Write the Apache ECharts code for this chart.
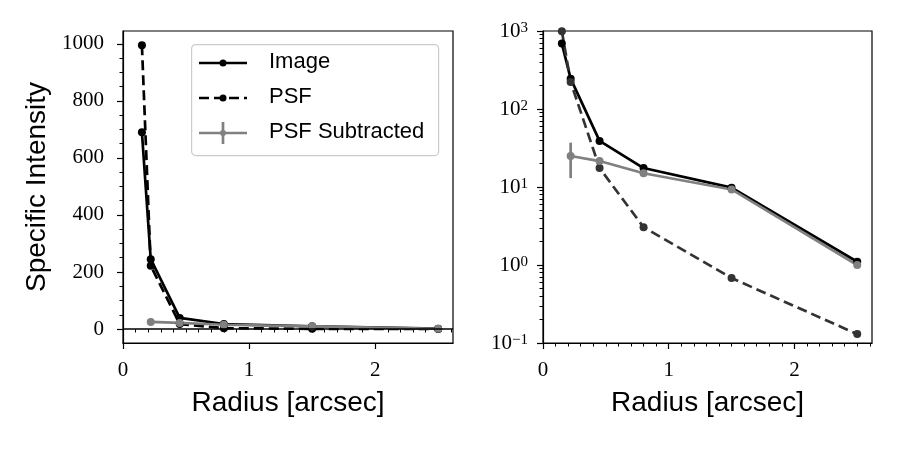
<!DOCTYPE html>
<html>
<head>
<meta charset="utf-8">
<script src="https://cdn.jsdelivr.net/npm/echarts@6/dist/echarts.min.js"></script>
<style>
  html, body { margin: 0; padding: 0; background: #fff; }
  #chart { width: 900px; height: 450px; }
</style>
</head>
<body>
<div id="chart"></div>
<script>
// data
const radius = [0.15, 0.22, 0.45, 0.8, 1.5, 2.5];
const imageI = [690, 245, 39, 17.5, 9.8, 1.1];
const psfI = [995, 222, 17.5, 3.05, 0.68, 0.13];
const subRadius = [0.22, 0.45, 0.8, 1.5, 2.5];
const subI = [25, 21.5, 15, 9.3, 1.0];
const subErr = [12, 1, 0.6, 0.4, 0.05];

// ticks
const xMajor = [0, 1, 2];
const xMinor = [0.1, 0.2, 0.3, 0.4, 0.5, 0.6, 0.7, 0.8, 0.9, 1.1, 1.2, 1.3, 1.4, 1.5, 1.6, 1.7, 1.8, 1.9,
  2.1, 2.2, 2.3, 2.4, 2.5, 2.6];
const yLinMajor = [0, 200, 400, 600, 800, 1000];
const yLinMinor = [50, 100, 150, 250, 300, 350, 450, 500, 550, 650, 700, 750, 850, 900, 950];
const yLogMajor = [0.1, 1, 10, 100, 1000];
const yLogMinor = [];
[0.1, 1, 10, 100].forEach(d => { for (let k = 2; k <= 9; k++) yLogMinor.push(+(d * k).toPrecision(3)); });

const X_MAX = 2.6175;
const serif = 'Liberation Serif';
const sans = 'Liberation Sans';
const GRAY = '#808080';

const pairs = (xs, ys) => xs.map((x, i) => [x, ys[i]]);

function majorX(grid) {
  return {
    gridIndex: grid, type: 'value', min: 0, max: X_MAX, position: 'bottom',
    name: 'Radius [arcsec]', nameLocation: 'middle', nameGap: 46,
    nameTextStyle: { fontFamily: sans, fontSize: 28, color: '#000' },
    axisLine: { show: true, onZero: false, lineStyle: { color: '#000', width: 1.2 } },
    axisTick: { show: true, length: 6, customValues: xMajor, lineStyle: { color: '#000', width: 1.2 } },
    axisLabel: { customValues: xMajor, margin: 17, fontFamily: serif, fontSize: 21, color: '#000' },
    splitLine: { show: false }
  };
}
function minorX(grid) {
  return {
    gridIndex: grid, type: 'value', min: 0, max: X_MAX, position: 'bottom',
    axisLine: { show: false },
    axisTick: { show: true, length: 3.5, customValues: xMinor, lineStyle: { color: '#000', width: 1 } },
    axisLabel: { show: false }, splitLine: { show: false }
  };
}

const supMap = v => {
  const e = Math.round(Math.log10(v));
  return '{b|10}{s|' + (e < 0 ? '\u2212' + (-e) : e) + '}';
};

const option = {
  animation: false,
  backgroundColor: '#fff',
  grid: [
    { left: 123, top: 31, width: 330, height: 312, show: true, borderColor: '#000', borderWidth: 1.2, backgroundColor: 'transparent' },
    { left: 543, top: 31, width: 329, height: 312, show: true, borderColor: '#000', borderWidth: 1.2, backgroundColor: 'transparent' }
  ],
  xAxis: [majorX(0), minorX(0), majorX(1), minorX(1)],
  yAxis: [
    {
      gridIndex: 0, type: 'value', min: -49, max: 1045, position: 'left',
      name: 'Specific Intensity', nameLocation: 'middle', nameGap: 72, nameRotate: 90,
      nameTextStyle: { fontFamily: sans, fontSize: 28, color: '#000' },
      axisLine: { show: true, onZero: false, lineStyle: { color: '#000', width: 1.2 } },
      axisTick: { show: true, length: 6, customValues: yLinMajor, lineStyle: { color: '#000', width: 1.2 } },
      axisLabel: { customValues: yLinMajor, margin: 19, formatter: v => String(v), fontFamily: serif, fontSize: 21, color: '#000' },
      splitLine: { show: false }
    },
    {
      gridIndex: 0, type: 'value', min: -49, max: 1045, position: 'left',
      axisLine: { show: false },
      axisTick: { show: true, length: 3.5, customValues: yLinMinor, lineStyle: { color: '#000', width: 1 } },
      axisLabel: { show: false }, splitLine: { show: false }
    },
    {
      gridIndex: 1, type: 'log', logBase: 10, min: 0.1, max: 1000, position: 'left',
      axisLine: { show: true, onZero: false, lineStyle: { color: '#000', width: 1.2 } },
      axisTick: { show: true, length: 6, customValues: yLogMajor, lineStyle: { color: '#000', width: 1.2 } },
      axisLabel: {
        customValues: yLogMajor, margin: 15, formatter: supMap,
        rich: {
          b: { fontFamily: serif, fontSize: 21, lineHeight: 21, color: '#000', verticalAlign: 'bottom' },
          s: { fontFamily: serif, fontSize: 15, lineHeight: 14, color: '#000', verticalAlign: 'top' }
        }
      },
      splitLine: { show: false }
    },
    {
      gridIndex: 1, type: 'log', logBase: 10, min: 0.1, max: 1000, position: 'left',
      axisLine: { show: false },
      axisTick: { show: true, length: 3.5, customValues: yLogMinor, lineStyle: { color: '#000', width: 1 } },
      axisLabel: { show: false }, splitLine: { show: false }
    }
  ],
  series: [
    // left panel
    {
      name: 'Image', type: 'line', xAxisIndex: 0, yAxisIndex: 0, data: pairs(radius, imageI),
      symbol: 'circle', symbolSize: 8, showSymbol: true,
      lineStyle: { color: '#000', width: 2.7 }, itemStyle: { color: '#000' },
      markLine: {
        silent: true, symbol: 'none', label: { show: false },
        lineStyle: { color: '#000', width: 1.5, type: 'solid' },
        data: [{ yAxis: 0 }]
      }
    },
    {
      name: 'PSF', type: 'line', xAxisIndex: 0, yAxisIndex: 0, data: pairs(radius, psfI),
      symbol: 'circle', symbolSize: 8,
      lineStyle: { color: '#000', width: 2.7, type: [10, 5] }, itemStyle: { color: '#000' }
    },
    {
      name: 'PSF Subtracted', type: 'line', xAxisIndex: 0, yAxisIndex: 0, data: pairs(subRadius, subI),
      symbol: 'circle', symbolSize: 8,
      lineStyle: { color: GRAY, width: 2.7 }, itemStyle: { color: GRAY }
    },
    // right panel
    {
      name: 'Image', type: 'line', xAxisIndex: 2, yAxisIndex: 2, data: pairs(radius, imageI),
      symbol: 'circle', symbolSize: 8,
      lineStyle: { color: '#000', width: 2.7 }, itemStyle: { color: '#000' }
    },
    {
      name: 'PSF', type: 'line', xAxisIndex: 2, yAxisIndex: 2, data: pairs(radius, psfI),
      symbol: 'circle', symbolSize: 8,
      lineStyle: { color: '#333', width: 2.7, type: [10, 5] }, itemStyle: { color: '#333' }
    },
    {
      name: 'PSF Subtracted', type: 'line', xAxisIndex: 2, yAxisIndex: 2, data: pairs(subRadius, subI),
      symbol: 'circle', symbolSize: 8,
      lineStyle: { color: GRAY, width: 2.7 }, itemStyle: { color: GRAY }
    }
  ].concat([0, 2].map(ax => ({
    type: 'custom', xAxisIndex: ax, yAxisIndex: ax, z: 3,
    data: subRadius.map((r, i) => [r, subI[i], subErr[i]]),
    renderItem(params, api) {
      const x = api.value(0), y = api.value(1), e = api.value(2);
      const top = api.coord([x, y + e]);
      const bot = api.coord([x, y - e]);
      return {
        type: 'line',
        shape: { x1: top[0], y1: top[1], x2: bot[0], y2: bot[1] },
        style: { stroke: GRAY, lineWidth: 2.7 }
      };
    }
  }))),
  // legend box drawn as graphics
  graphic: [
    { type: 'rect', left: 191, top: 44, shape: { width: 247, height: 111, r: 4 },
      style: { fill: 'rgba(255,255,255,0.85)', stroke: '#cccccc', lineWidth: 1.2 }, z: 100 },
    { type: 'line', shape: { x1: 199, y1: 63, x2: 247, y2: 63 }, style: { stroke: '#000', lineWidth: 2.7 }, z: 101 },
    { type: 'circle', shape: { cx: 223, cy: 63, r: 3.5 }, style: { fill: '#000' }, z: 101 },
    { type: 'line', shape: { x1: 199, y1: 98, x2: 247, y2: 98 }, style: { stroke: '#000', lineWidth: 2.7, lineDash: [10, 5] }, z: 101 },
    { type: 'circle', shape: { cx: 223, cy: 98, r: 3.5 }, style: { fill: '#000' }, z: 101 },
    { type: 'line', shape: { x1: 199, y1: 133, x2: 247, y2: 133 }, style: { stroke: GRAY, lineWidth: 2.7 }, z: 101 },
    { type: 'line', shape: { x1: 223, y1: 122, x2: 223, y2: 144 }, style: { stroke: GRAY, lineWidth: 2.7 }, z: 101 },
    { type: 'circle', shape: { cx: 223, cy: 133, r: 3 }, style: { fill: GRAY }, z: 101 },
    { type: 'text', left: 269, top: 51, style: { text: 'Image', font: '22px "Liberation Sans"', fill: '#000' }, z: 101 },
    { type: 'text', left: 269, top: 86, style: { text: 'PSF', font: '22px "Liberation Sans"', fill: '#000' }, z: 101 },
    { type: 'text', left: 269, top: 121, style: { text: 'PSF Subtracted', font: '22px "Liberation Sans"', fill: '#000' }, z: 101 }
  ]
};

const chart = echarts.init(document.getElementById('chart'));
chart.setOption(option);
</script>
</body>
</html>
